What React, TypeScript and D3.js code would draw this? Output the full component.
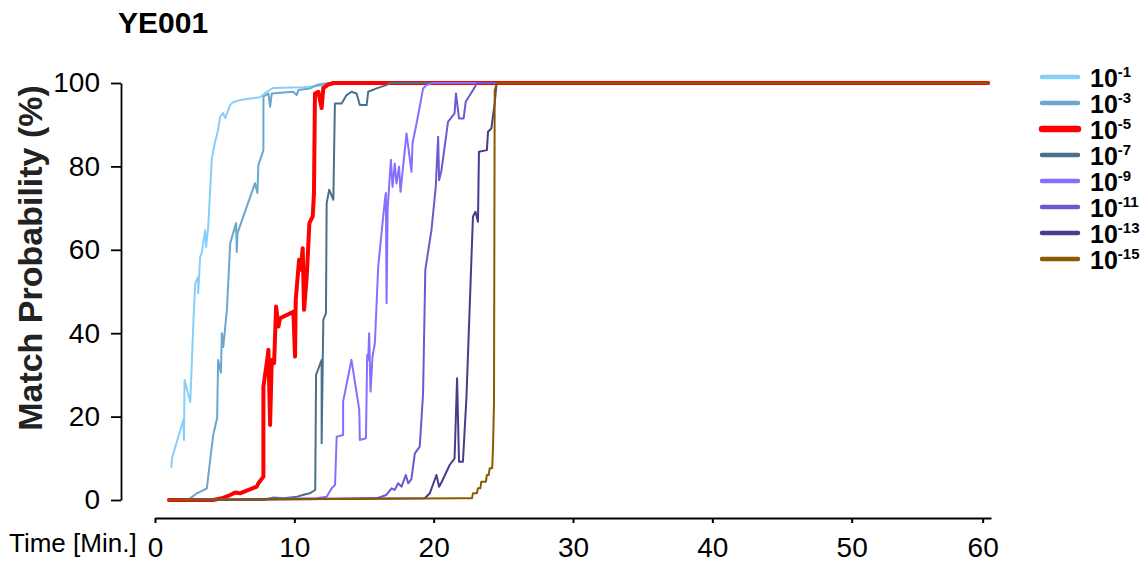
import React, { useEffect, useRef } from 'react';
import * as d3 from 'd3';

// time [min], match probability [%]
const s1: [number, number][] = [
	[1.17, 7.9], [1.22, 10], [2.03, 19.2], [2.08, 14.4], [2.12, 28.8], [2.53, 23.5], [2.65, 33.6], [2.77, 43.9],
	[2.89, 52], [3.1, 53.5], [3.1, 49.6], [3.24, 58.3], [3.37, 59.5], [3.6, 64.7], [3.67, 60.7], [3.82, 65.5],
	[4.08, 82], [4.32, 86], [4.53, 88.7], [4.68, 92], [4.89, 92.8], [5.04, 91.6], [5.39, 94.7], [5.6, 95.4],
	[6.1, 95.9], [7.54, 96.6], [8.02, 97.9], [8.47, 98.8], [10.6, 99], [12.5, 99.5], [13.5, 100], [59.8, 100]
];
const s3: [number, number][] = [
	[1, 0], [2.4, 0], [2.53, 0.4], [3.0, 1.6], [3.37, 2.2], [3.72, 2.8], [3.96, 9.6], [4.18, 15.6], [4.46, 19.7],
	[4.53, 33.6], [4.73, 30.5], [4.8, 40], [4.9, 36.7], [5.16, 45.6], [5.4, 61.6], [5.82, 66.4], [5.87, 59.5],
	[5.92, 64], [7.18, 76], [7.35, 73.6], [7.42, 80.3], [7.78, 83.9], [7.78, 96.7], [8.14, 97.5], [8.26, 94.3],
	[8.38, 97.5], [9.93, 97.9], [10.17, 97.1], [10.29, 98.3], [11.13, 98.7], [11.6, 99.5], [12.07, 99.8],
	[12.5, 100], [59.8, 100]
];
const s5: [number, number][] = [
	[1, 0], [4.18, 0], [4.8, 0.4], [5.4, 1.2], [5.75, 1.8], [6.1, 1.6], [7.3, 3.2], [7.42, 4], [7.78, 5.6],
	[7.78, 27.2], [8.02, 32.8], [8.14, 36], [8.26, 18], [8.38, 33.6], [8.55, 32.8], [8.69, 46.4], [8.86, 41.6],
	[8.98, 43.6], [9.93, 45.1], [10.05, 34.4], [10.1, 48], [10.34, 57.6], [10.46, 55.2], [10.6, 60.4],
	[10.7, 45.6], [10.89, 53.6], [11.08, 66.4], [11.32, 68], [11.41, 73.6], [11.48, 97.5], [11.72, 97.9],
	[11.96, 94], [12.08, 98.8], [12.43, 99.6], [12.8, 100], [59.8, 100]
];
const s7: [number, number][] = [
	[1, 0], [7.8, 0], [8.5, 0.6], [9.2, 0.4], [10.2, 0.8], [10.6, 1.2], [11.1, 1.6], [11.5, 2.4], [11.56, 30],
	[11.96, 33.6], [11.96, 13.6], [12.08, 43.2], [12.27, 44.8], [12.32, 71.2], [12.5, 74.4], [12.8, 72],
	[12.91, 95.1], [13.4, 95.1], [13.75, 97.1], [14.1, 97.9], [14.47, 97.5], [14.7, 94.7], [15.19, 94.7],
	[15.3, 97.9], [15.9, 98.7], [16.6, 99.5], [16.86, 100], [59.8, 100]
];
const s9: [number, number][] = [
	[1, 0], [11.6, 0.4], [12.32, 0.8], [12.68, 2.8], [12.92, 3.6], [13.04, 15.2], [13.5, 15.6], [13.5, 23.6],
	[14.1, 33.6], [14.66, 21.6], [14.7, 14.4], [15.14, 14.8], [15.23, 34.8], [15.3, 33.6], [15.37, 40],
	[15.47, 26], [15.61, 34.4], [15.78, 37.6], [16.02, 56], [16.5, 72], [16.57, 73.6], [16.62, 47.2],
	[16.7, 70], [16.93, 81.6], [17.05, 75.1], [17.21, 80.7], [17.33, 75.9], [17.52, 79.9], [17.62, 73.9],
	[18.05, 87.9], [18.41, 78.7], [18.48, 85.5], [18.77, 90.3], [19.0, 94.3], [19.24, 98.7], [19.48, 99.5],
	[19.96, 100], [59.8, 100]
];
const s11: [number, number][] = [
	[1, 0], [15.9, 0.4], [16.6, 1.2], [16.98, 2.8], [17.2, 2.4], [17.45, 4], [17.7, 3.2], [18.0, 6], [18.17, 4],
	[18.4, 5], [18.65, 11.2], [19.0, 12.8], [19.24, 25.6], [19.4, 55.2], [19.84, 64.7], [20.08, 72.7],
	[20.15, 75.1], [20.32, 87.1], [20.39, 76.7], [20.56, 79.1], [20.92, 87.9], [21.03, 90.7], [21.5, 92.7],
	[21.6, 97.5], [21.82, 91.5], [22.15, 91.5], [22.3, 95.5], [22.94, 98.9], [23.1, 100], [59.8, 100]
];
const s13: [number, number][] = [
	[1, 0], [19.36, 0.4], [19.72, 1.6], [20.2, 6], [20.39, 3.2], [20.6, 4.5], [21.15, 8.4], [21.5, 10],
	[21.68, 29.2], [21.82, 9.2], [22.1, 9.2], [22.35, 24.4], [22.82, 68], [23.0, 69.1], [23.18, 66.7],
	[23.25, 83.5], [23.82, 83.9], [23.9, 88.3], [24.14, 89.1], [24.38, 95.1], [24.5, 99.5], [24.6, 100],
	[59.8, 100]
];
const s15: [number, number][] = [
	[1, 0], [21.87, 0.4], [22.75, 0.4], [22.82, 1.6], [23.1, 1.6], [23.18, 2.8], [23.35, 2.8], [23.42, 4.4],
	[23.75, 4.4], [23.82, 6], [23.95, 6], [24.02, 7.6], [24.2, 7.6], [24.26, 12.8], [24.33, 23.2],
	[24.38, 98.3], [24.5, 99.5], [24.6, 100], [59.8, 100]
];

const seriesData = [s1, s3, s5, s7, s9, s11, s13, s15];
const seriesExp = ['-1', '-3', '-5', '-7', '-9', '-11', '-13', '-15'];
const seriesColors = ['#87CEFA', '#6CA6CD', '#FF0000', '#4A708B', '#8470FF', '#6A5ACD', '#483D8B', '#8B5A00'];

const xTicks = [0, 10, 20, 30, 40, 50, 59.4];
const xTickLabels = ['0', '10', '20', '30', '40', '50', '60'];
const yTicks = [0, 20, 40, 60, 80, 100];

const FONT = '"Liberation Sans", Arial, Helvetica, sans-serif';

export default function App() {
	const ref = useRef<SVGSVGElement>(null);

	useEffect(() => {
		const svg = d3.select(ref.current);
		svg.selectAll('*').remove();

		const x = d3.scaleLinear().domain([0, 60]).range([155, 991]);
		const y = d3.scaleLinear().domain([0, 100]).range([500, 83]);

		// title
		svg.append('text')
			.attr('x', 118).attr('y', 33)
			.attr('font-family', FONT).attr('font-size', 30).attr('font-weight', 'bold')
			.text('YE001');

		// y axis
		const yAxis = d3.axisLeft(y).tickValues(yTicks).tickSize(10).tickSizeOuter(0).tickPadding(11);
		const gy = svg.append('g').attr('transform', 'translate(121,0)').call(yAxis);
		gy.selectAll('text').attr('font-family', FONT).attr('font-size', 28).attr('fill', '#000');
		gy.selectAll('line,path').attr('stroke', '#000').attr('stroke-width', 1.8);

		svg.append('text')
			.attr('transform', 'translate(42,258) rotate(-90)')
			.attr('text-anchor', 'middle')
			.attr('font-family', FONT).attr('font-size', 34).attr('font-weight', 'bold')
			.attr('fill', '#222')
			.text('Match Probability (%)');

		// x axis
		const xAxis = d3.axisBottom(x).tickValues(xTicks).tickSize(5).tickSizeOuter(0).tickPadding(14)
			.tickFormat((d, i) => xTickLabels[i]);
		const gx = svg.append('g').attr('transform', 'translate(0,518)').call(xAxis);
		gx.selectAll('text').attr('font-family', FONT).attr('font-size', 28).attr('fill', '#000');
		gx.selectAll('line,path').attr('stroke', '#000').attr('stroke-width', 2);

		svg.append('text')
			.attr('x', 9).attr('y', 552)
			.attr('font-family', FONT).attr('font-size', 26)
			.text('Time [Min.]');

		// lines
		const line = d3.line<[number, number]>()
			.x(d => x(d[0]))
			.y(d => y(d[1]));

		seriesData.forEach((s, i) => {
			svg.append('path')
				.datum(s)
				.attr('d', line)
				.attr('fill', 'none')
				.attr('stroke', seriesColors[i])
				.attr('stroke-width', i === 2 ? 4 : 2)
				.attr('stroke-linejoin', 'round')
				.attr('stroke-linecap', 'round');
		});

		// legend
		const lg = svg.append('g').attr('transform', 'translate(1040,77)');
		seriesExp.forEach((e, i) => {
			const row = lg.append('g').attr('transform', `translate(0,${i * 26})`);
			row.append('line')
				.attr('x1', 2).attr('x2', 38)
				.attr('stroke', seriesColors[i])
				.attr('stroke-width', i === 2 ? 6.5 : 4.5)
				.attr('stroke-linecap', 'round');
			const t = row.append('text')
				.attr('x', 50).attr('y', 10)
				.attr('font-family', FONT).attr('font-weight', 'bold').attr('font-size', 25);
			t.append('tspan').text('10');
			t.append('tspan').attr('dy', -10).attr('font-size', 15).text(e);
		});
	}, []);

	return (
		<svg ref={ref} width={1143} height={563}
			style={{ position: 'absolute', left: 0, top: 0, background: '#fff' }} />
	);
}
